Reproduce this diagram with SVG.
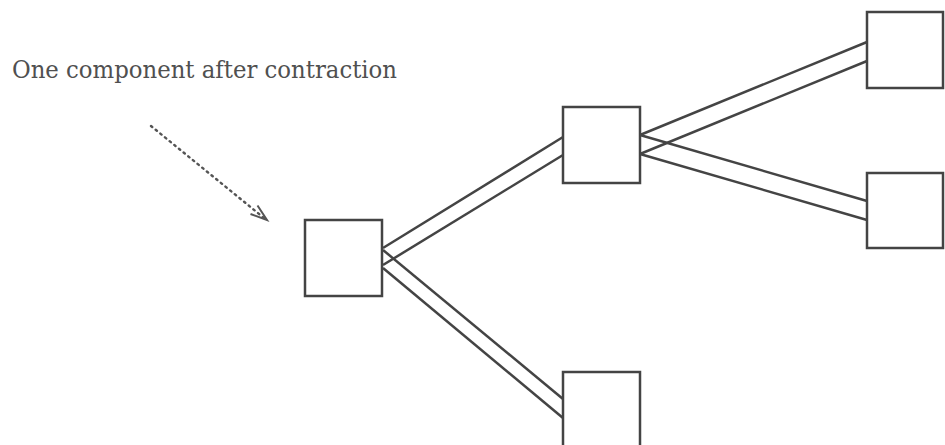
<svg xmlns="http://www.w3.org/2000/svg" width="945" height="445" viewBox="0 0 945 445">
  <style>
    .box { fill: #fff; stroke: #444; stroke-width: 2.5; }
    .edge { stroke: #444; stroke-width: 2.5; fill: none; }
    .label { font-family: "DejaVu Serif", "Liberation Serif", serif; font-size: 25px; fill: #505050; }
    .pointer { stroke: #555; stroke-width: 2.4; fill: none; stroke-dasharray: 1.6 4.4; stroke-linecap: round; }
    .head { stroke: #555; stroke-width: 2; fill: none; }
  </style>
  <rect width="945" height="445" fill="#fff"/>

  <text class="label" x="12" y="78" textLength="385" lengthAdjust="spacingAndGlyphs">One component after contraction</text>

  <!-- dotted pointer with open head -->
  <g id="pointer">
    <line class="pointer" x1="151" y1="126" x2="264" y2="218"/>
    <polyline class="head" points="250.5,214 267,220 257.5,205.5"/>
  </g>

  <!-- double-line connectors between components -->
  <g id="connectors">
    <line class="edge" x1="383" y1="248" x2="563" y2="137"/>
    <line class="edge" x1="383" y1="265" x2="563" y2="155"/>
    <line class="edge" x1="383" y1="250" x2="563" y2="399"/>
    <line class="edge" x1="383" y1="268" x2="563" y2="418"/>
    <line class="edge" x1="640" y1="135" x2="867" y2="42"/>
    <line class="edge" x1="640" y1="154" x2="867" y2="61"/>
    <line class="edge" x1="640" y1="135" x2="867" y2="201"/>
    <line class="edge" x1="640" y1="154" x2="867" y2="220"/>
  </g>

  <g id="node-root"><rect class="box" x="305" y="220" width="77" height="76"/></g>
  <g id="node-mid"><rect class="box" x="563" y="107" width="77" height="76"/></g>
  <g id="node-top"><rect class="box" x="867" y="12" width="76" height="76"/></g>
  <g id="node-right"><rect class="box" x="867" y="173" width="76" height="75"/></g>
  <g id="node-bottom"><rect class="box" x="563" y="372" width="77" height="76"/></g>
</svg>
